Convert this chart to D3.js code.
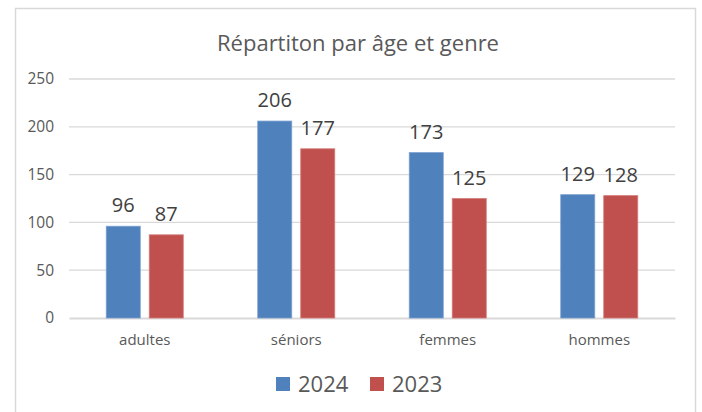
<!DOCTYPE html>
<html>
<head>
<meta charset="utf-8">
<script src="https://cdn.jsdelivr.net/npm/d3@7"></script>
<style>
  body { margin: 0; background: #fff; }
  text { font-family: "Open Sans", sans-serif; }
</style>
</head>
<body>
<div class="svgContainer"></div>
<script>
var w = 702;
var h = 412;

// data
var categories = ["adultes", "séniors", "femmes", "hommes"];
var seriesNames = ["2024", "2023"];
var values2024 = [96, 206, 173, 129];
var values2023 = [87, 177, 125, 128];
var yTicks = [0, 50, 100, 150, 200, 250];
var colors = ["#4f81bd", "#c0504d"];
var strokes = ["#7a9fd0", "#d27c79"];

var seriesValues = [values2024, values2023];

var svg = d3.select(".svgContainer")
            .append("svg")
            .attr("width", w)
            .attr("height", h);

// chart frame
svg.append("rect")
   .attr("x", 15.5)
   .attr("y", 8.5)
   .attr("width", 680)
   .attr("height", 420)
   .attr("fill", "#fff")
   .attr("stroke", "#d9d9d9")
   .attr("stroke-width", 1.5);

svg.append("text")
   .attr("x", 358)
   .attr("y", 51)
   .attr("text-anchor", "middle")
   .attr("fill", "#595959")
   .style("font-size", "22px")
   .text("Répartiton par âge et genre");

var x0 = d3.scaleBand()
           .domain(categories)
           .range([69, 675])
           .padding(0);

var x1 = d3.scaleBand()
           .domain(seriesNames)
           .range([0, x0.bandwidth()])
           .paddingInner(0.209)
           .paddingOuter(0.866);

var yScale = d3.scaleLinear()
               .domain([0, 250])
               .range([318, 79]);

// gridlines
svg.selectAll(".grid")
   .data(yTicks.slice(1))
   .enter()
   .append("line")
   .attr("class", "grid")
   .attr("x1", 69)
   .attr("x2", 675)
   .attr("y1", (d) => yScale(d))
   .attr("y2", (d) => yScale(d))
   .attr("stroke", "#d9d9d9")
   .attr("stroke-width", 1.3);

var yAxis = d3.axisLeft(yScale)
              .tickValues(yTicks)
              .tickSize(0)
              .tickPadding(15);

var yAxisGroup = svg.append("g")
                    .attr("transform", "translate(69, 0)")
                    .call(yAxis);
yAxisGroup.select(".domain").remove();
yAxisGroup.selectAll("text")
          .attr("fill", "#595959")
          .style("font-size", "15.5px")
          .style("font-family", "'Open Sans', sans-serif");

var xAxis = d3.axisBottom(x0)
              .tickSize(0)
              .tickPadding(16);

var xAxisGroup = svg.append("g")
                    .attr("transform", "translate(0, 318)")
                    .call(xAxis);
xAxisGroup.select(".domain")
          .attr("stroke", "#d9d9d9")
          .attr("stroke-width", 2);
xAxisGroup.selectAll("text")
          .attr("fill", "#595959")
          .style("font-size", "15px")
          .style("font-family", "'Open Sans', sans-serif");

var groups = svg.selectAll(".cat")
                .data(categories)
                .enter()
                .append("g")
                .attr("class", "cat")
                .attr("transform", (d) => "translate(" + x0(d) + ",0)");

groups.selectAll("rect")
      .data((d, i) => seriesNames.map((s, j) => ({ s: s, j: j, v: seriesValues[j][i] })))
      .enter()
      .append("rect")
      .attr("x", (d) => x1(d.s))
      .attr("y", (d) => yScale(d.v))
      .attr("width", x1.bandwidth())
      .attr("height", (d) => yScale(0) - yScale(d.v))
      .attr("fill", (d) => colors[d.j])
      .attr("stroke", (d) => strokes[d.j])
      .attr("stroke-width", 0.8);

groups.selectAll(".val")
      .data((d, i) => seriesNames.map((s, j) => ({ s: s, j: j, v: seriesValues[j][i] })))
      .enter()
      .append("text")
      .attr("class", "val")
      .attr("x", (d) => x1(d.s) + x1.bandwidth() / 2)
      .attr("y", (d) => yScale(d.v) - 14)
      .attr("text-anchor", "middle")
      .attr("fill", "#404040")
      .style("font-size", "20px")
      .text((d) => d.v);

// legend
var legendX = [276, 370];
var legend = svg.selectAll(".legend")
                .data(seriesNames)
                .enter()
                .append("g")
                .attr("class", "legend")
                .attr("transform", (d, i) => "translate(" + legendX[i] + ", 377)");

legend.append("rect")
      .attr("width", 14)
      .attr("height", 14)
      .attr("fill", (d, i) => colors[i]);

legend.append("text")
      .attr("x", 22)
      .attr("y", 15)
      .attr("fill", "#595959")
      .style("font-size", "22px")
      .text((d) => d);
</script>
</body>
</html>
